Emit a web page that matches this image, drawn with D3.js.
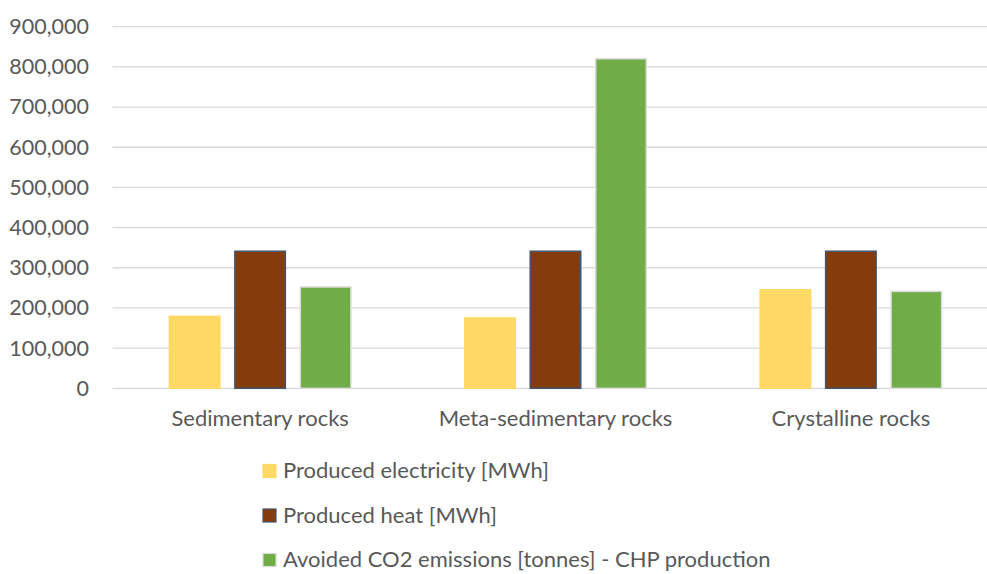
<!DOCTYPE html>
<html>
<head>
<meta charset="utf-8">
<script src="https://cdn.jsdelivr.net/npm/d3@7"></script>
<style>
  html, body { margin: 0; padding: 0; background: #fff; overflow: hidden; }
  svg { display: block; }
  text { font-family: Lato, "Open Sans", sans-serif; fill: #595959; }
</style>
</head>
<body>
<svg id="chart" width="987" height="574"></svg>
<script>
const categories = ["Sedimentary rocks", "Meta-sedimentary rocks", "Crystalline rocks"];
const seriesNames = [
  "Produced electricity [MWh]",
  "Produced heat [MWh]",
  "Avoided CO2 emissions [tonnes] - CHP production"
];
const electricity = [181000, 177000, 247000];
const heat = [343000, 343000, 343000];
const avoidedCO2 = [254000, 822000, 243000];
const yTicks = [0, 100000, 200000, 300000, 400000, 500000, 600000, 700000, 800000, 900000];

const seriesValues = [electricity, heat, avoidedCO2];
const colors = ["#FFD966", "#843C0C", "#70AD47"];
const strokes = ["#FFD966", "#44546A", "#D9D9D9"];
const fontSize = 22;

const svg = d3.select("#chart");
const plot = { left: 112.5, right: 998.5, top: 26.7, bottom: 388.3 };

const y = d3.scaleLinear().domain([0, 900000]).range([plot.bottom, plot.top]);
const x0 = d3.scaleBand().domain(categories).range([plot.left, plot.right])
  .paddingInner(0.3805).paddingOuter(0.19);
const x1 = d3.scaleBand().domain(seriesNames).range([0, x0.bandwidth()])
  .paddingInner(0.206).paddingOuter(0);

// gridlines
svg.append("g").selectAll("line").data(yTicks).join("line")
  .attr("x1", plot.left).attr("x2", plot.right)
  .attr("y1", d => y(d)).attr("y2", d => y(d))
  .attr("stroke", "#D9D9D9").attr("stroke-width", 1.3);

// y axis labels
const yAxis = d3.axisLeft(y).tickValues(yTicks).tickFormat(d3.format(",")).tickSize(0).tickPadding(0);
const gy = svg.append("g").attr("transform", `translate(89,0)`).call(yAxis);
gy.select(".domain").remove();
gy.selectAll("text").attr("font-size", 21.5).attr("fill", "#595959")
  .style("font-family", "Lato, 'Open Sans', sans-serif");

// bars
const groups = svg.append("g").selectAll("g").data(categories).join("g")
  .attr("transform", d => `translate(${x0(d)},0)`);
groups.selectAll("rect")
  .data((c, ci) => seriesNames.map((s, si) => ({ s, si, v: seriesValues[si][ci] })))
  .join("rect")
  .attr("x", d => x1(d.s) + 0.75)
  .attr("width", d => x1.bandwidth() - 1.5)
  .attr("y", d => y(d.v) + 0.75)
  .attr("height", d => y(0) - y(d.v) - 0.75)
  .attr("fill", d => colors[d.si])
  .attr("stroke", d => strokes[d.si])
  .attr("stroke-width", 1.5);

// x axis labels
const xAxis = d3.axisBottom(x0).tickSize(0).tickPadding(0);
const gx = svg.append("g").attr("transform", `translate(0,${plot.bottom + 22})`).call(xAxis);
gx.select(".domain").remove();
gx.selectAll("text").attr("font-size", fontSize).attr("fill", "#595959")
  .style("font-family", "Lato, 'Open Sans', sans-serif");

// legend
const legendY = d3.scalePoint().domain(seriesNames).range([471, 560]);
const lg = svg.append("g").selectAll("g").data(seriesNames).join("g")
  .attr("transform", d => `translate(263,${legendY(d)})`);
lg.append("rect").attr("x", 0).attr("y", -6.5).attr("width", 13).attr("height", 13)
  .attr("fill", (d, i) => colors[i]).attr("stroke", (d, i) => strokes[i]).attr("stroke-width", 1.2);
lg.append("text").attr("x", 20).attr("y", 0).attr("dy", "0.33em")
  .attr("font-size", fontSize).text(d => d);
</script>
</body>
</html>
